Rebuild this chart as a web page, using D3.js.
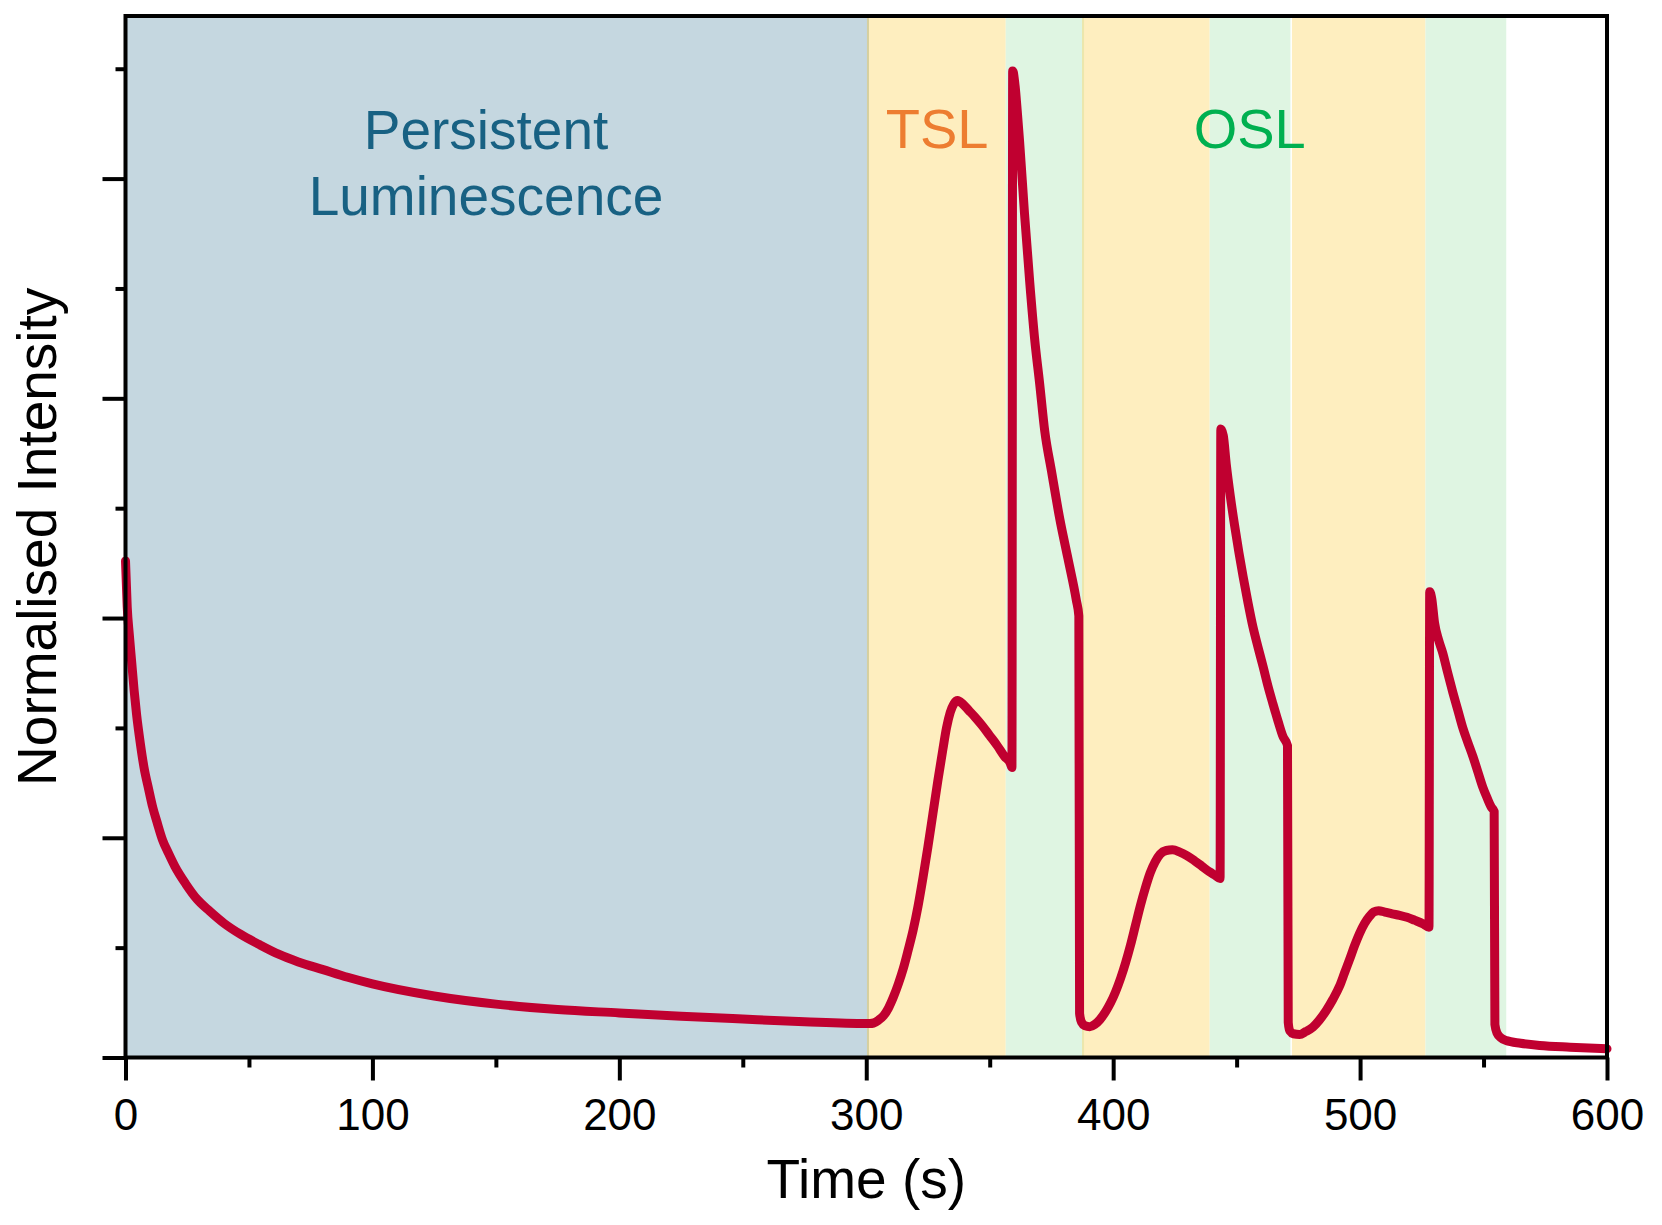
<!DOCTYPE html>
<html>
<head>
<meta charset="utf-8">
<script src="https://cdn.jsdelivr.net/npm/d3@7"></script>
<style>
  body { margin: 0; background: #fff; }
  svg text { font-family: "Liberation Sans", Arial, sans-serif; }
</style>
</head>
<body>
<script>
const width = 1662;
const height = 1225;

// persistent luminescence decay
const decayTime = [0, 0.7, 1.5, 2.5, 3.5, 4.5, 6, 7.5, 9.4, 11, 12.8, 15, 17.4, 20, 24.4, 29, 34.2, 40, 46.7, 54, 62, 70, 80, 90, 100, 125, 150, 175, 200, 225, 250, 275, 300];
const decayValue = [2.26, 2.05, 1.93, 1.8, 1.67, 1.56, 1.43, 1.32, 1.22, 1.14, 1.07, 0.99, 0.93, 0.87, 0.79, 0.72, 0.665, 0.61, 0.56, 0.515, 0.47, 0.435, 0.40, 0.365, 0.335, 0.28, 0.243, 0.218, 0.203, 0.188, 0.175, 0.163, 0.155];

// TSL heating + OSL stimulation, three cycles
const cycle1Time = [301.5, 303, 305, 307, 309, 311, 313, 315, 317, 319, 321, 323, 325, 327, 329, 331, 332.5, 334, 335.5, 337, 339, 341.5, 344, 347, 350, 353, 356, 358.3, 359.0,
  359.3, 360.3, 361.2, 362.1, 364.1, 366.2, 368.2, 370.2, 372.3, 375, 378.4, 381.7, 385.1, 386.1, 386.4, 387.2, 388.5, 390.5];
const cycle1Value = [0.155, 0.157, 0.17, 0.19, 0.225, 0.275, 0.335, 0.405, 0.49, 0.58, 0.69, 0.82, 0.96, 1.11, 1.26, 1.40, 1.50, 1.57, 1.61, 1.625, 1.61, 1.58, 1.55, 1.51, 1.465, 1.42, 1.37, 1.34, 1.32,
  4.49, 4.42, 4.3, 4.17, 3.84, 3.53, 3.27, 3.07, 2.85, 2.67, 2.45, 2.27, 2.08, 2.01, 0.2, 0.16, 0.145, 0.14];

const cycle2Time = [392.5, 394.6, 397, 399, 401, 403, 405, 407, 409, 411, 413, 415, 417, 419, 421.5, 424, 427, 430, 433, 436, 439, 441.5, 443.3,
  443.6, 444.6, 445.8, 447.5, 449.2, 450.9, 452.6, 454.6, 456.6, 458.6, 460.7, 462.7, 464.7, 466.8, 468.8, 470.6, 470.9, 471.6, 473, 475.5];
const cycle2Value = [0.15, 0.172, 0.21, 0.25, 0.30, 0.36, 0.43, 0.51, 0.6, 0.69, 0.77, 0.84, 0.89, 0.925, 0.942, 0.945, 0.935, 0.918, 0.895, 0.87, 0.845, 0.828, 0.815,
  2.86, 2.83, 2.70, 2.55, 2.42, 2.30, 2.19, 2.07, 1.96, 1.87, 1.78, 1.69, 1.61, 1.53, 1.46, 1.42, 0.16, 0.12, 0.108, 0.105];

const cycle3Time = [478, 480.9, 483.5, 486.3, 489, 491.7, 493.7, 495.7, 497.8, 499.8, 501.8, 503.8, 505.5, 507.5, 510, 513, 516, 519, 522, 525.4, 527.9,
  528.2, 529, 530.2, 531.8, 533.5, 535.5, 537.6, 539.6, 541.6, 543.6, 545.7, 547.7, 549.7, 551.5, 553.1, 554.3, 554.6, 555.5, 557, 559.2];
const cycle3Value = [0.118, 0.138, 0.17, 0.214, 0.265, 0.325, 0.385, 0.445, 0.51, 0.565, 0.61, 0.642, 0.662, 0.668, 0.662, 0.654, 0.647, 0.638, 0.625, 0.609, 0.593,
  2.12, 2.09, 1.975, 1.90, 1.84, 1.75, 1.66, 1.58, 1.50, 1.435, 1.37, 1.30, 1.23, 1.18, 1.14, 1.12, 0.15, 0.11, 0.09, 0.077];

const tailTime = [565, 572.7, 585, 600];
const tailValue = [0.065, 0.055, 0.047, 0.04];

// shaded measurement regions
const regionStart = [0, 300.7, 356.5, 387.8, 439.1, 472.1, 526.5];
const regionEnd = [300.7, 356.5, 387.8, 439.1, 472.1, 526.5, 559.2];
const regionKind = ["PL", "TSL", "OSL", "TSL", "OSL", "TSL", "OSL"];

const xTicks = [0, 100, 200, 300, 400, 500, 600];
const xMinorTicks = [50, 150, 250, 350, 450, 550];
const yTicks = [0, 1, 2, 3, 4];
const yMinorTicks = [0.5, 1.5, 2.5, 3.5, 4.5];

const regionColor = { PL: "#c5d7e0", TSL: "#feeebf", OSL: "#dff5e2" };

const plotLeft = 125.5, plotRight = 1607, plotTop = 16, plotBottom = 1057.5;

const svg = d3.select("body")
  .append("svg")
  .attr("width", width)
  .attr("height", height);

const x = d3.scaleLinear().domain([0, 600]).range([plotLeft, plotRight]);
const y = d3.scaleLinear().domain([0, 4.74]).range([plotBottom, plotTop]);

// backgrounds
svg.selectAll("rect.region")
  .data(regionKind)
  .enter()
  .append("rect")
  .attr("class", "region")
  .attr("x", (d, i) => x(regionStart[i]))
  .attr("y", plotTop)
  .attr("width", (d, i) => x(regionEnd[i]) - x(regionStart[i]))
  .attr("height", plotBottom - plotTop)
  .attr("fill", d => regionColor[d]);

// thin seams between some regions
const seams = [[300.7, "#d6cf9f", 2], [387.8, "#ece7ac", 2], [472.1, "#ffffff", 1.5]];
svg.selectAll("line.seam")
  .data(seams)
  .enter()
  .append("line")
  .attr("x1", d => x(d[0]))
  .attr("x2", d => x(d[0]))
  .attr("y1", plotTop)
  .attr("y2", plotBottom)
  .attr("stroke", d => d[1])
  .attr("stroke-width", d => d[2]);

// annotations
svg.append("text")
  .attr("x", x(146))
  .attr("y", 149)
  .attr("text-anchor", "middle")
  .attr("font-size", 55)
  .attr("fill", "#186183")
  .text("Persistent");
svg.append("text")
  .attr("x", x(146))
  .attr("y", 215)
  .attr("text-anchor", "middle")
  .attr("font-size", 55)
  .attr("fill", "#186183")
  .text("Luminescence");
svg.append("text")
  .attr("x", x(328.7))
  .attr("y", 148)
  .attr("text-anchor", "middle")
  .attr("font-size", 56)
  .attr("fill", "#ed7d31")
  .text("TSL");
svg.append("text")
  .attr("x", x(455.3))
  .attr("y", 148)
  .attr("text-anchor", "middle")
  .attr("font-size", 56)
  .attr("fill", "#00b050")
  .text("OSL");

// data line
const times = [].concat(decayTime, cycle1Time, cycle2Time, cycle3Time, tailTime);
const values = [].concat(decayValue, cycle1Value, cycle2Value, cycle3Value, tailValue);
const points = times.map((t, i) => ({ t: t, v: values[i] }));

const line = d3.line()
  .x(d => x(d.t))
  .y(d => y(d.v))
  .curve(d3.curveMonotoneX);

svg.append("path")
  .datum(points)
  .attr("fill", "none")
  .attr("stroke", "#c00030")
  .attr("stroke-width", 9)
  .attr("stroke-linejoin", "round")
  .attr("stroke-linecap", "round")
  .attr("d", line);

// axes
const xAxis = svg.append("g")
  .attr("transform", `translate(0,${plotBottom})`)
  .call(d3.axisBottom(x).tickValues(xTicks).tickSize(23).tickSizeOuter(0).tickPadding(18).tickFormat(d3.format("d")));
xAxis.select(".domain").remove();
xAxis.selectAll(".tick line").attr("stroke", "#000").attr("stroke-width", 4);
xAxis.selectAll(".tick text")
  .attr("font-size", 44)
  .attr("fill", "#000")
  .attr("font-family", "Liberation Sans, Arial, sans-serif");

const xMinor = svg.append("g")
  .attr("transform", `translate(0,${plotBottom})`)
  .call(d3.axisBottom(x).tickValues(xMinorTicks).tickSize(10).tickSizeOuter(0).tickFormat(""));
xMinor.select(".domain").remove();
xMinor.selectAll(".tick line").attr("stroke", "#000").attr("stroke-width", 4);

const yAxis = svg.append("g")
  .attr("transform", `translate(${plotLeft},0)`)
  .call(d3.axisLeft(y).tickValues(yTicks).tickSize(23).tickSizeOuter(0).tickFormat(""));
yAxis.select(".domain").remove();
yAxis.selectAll(".tick line").attr("stroke", "#000").attr("stroke-width", 4);

const yMinor = svg.append("g")
  .attr("transform", `translate(${plotLeft},0)`)
  .call(d3.axisLeft(y).tickValues(yMinorTicks).tickSize(10).tickSizeOuter(0).tickFormat(""));
yMinor.select(".domain").remove();
yMinor.selectAll(".tick line").attr("stroke", "#000").attr("stroke-width", 4);

// frame
svg.append("rect")
  .attr("x", plotLeft)
  .attr("y", plotTop)
  .attr("width", plotRight - plotLeft)
  .attr("height", plotBottom - plotTop)
  .attr("fill", "none")
  .attr("stroke", "#000")
  .attr("stroke-width", 4);

// titles
svg.append("text")
  .attr("x", x(300))
  .attr("y", 1198)
  .attr("text-anchor", "middle")
  .attr("font-size", 55)
  .attr("fill", "#000")
  .text("Time (s)");

svg.append("text")
  .attr("transform", `translate(56,${(plotTop + plotBottom) / 2}) rotate(-90)`)
  .attr("text-anchor", "middle")
  .attr("font-size", 55)
  .attr("fill", "#000")
  .text("Normalised Intensity");
</script>
</body>
</html>
